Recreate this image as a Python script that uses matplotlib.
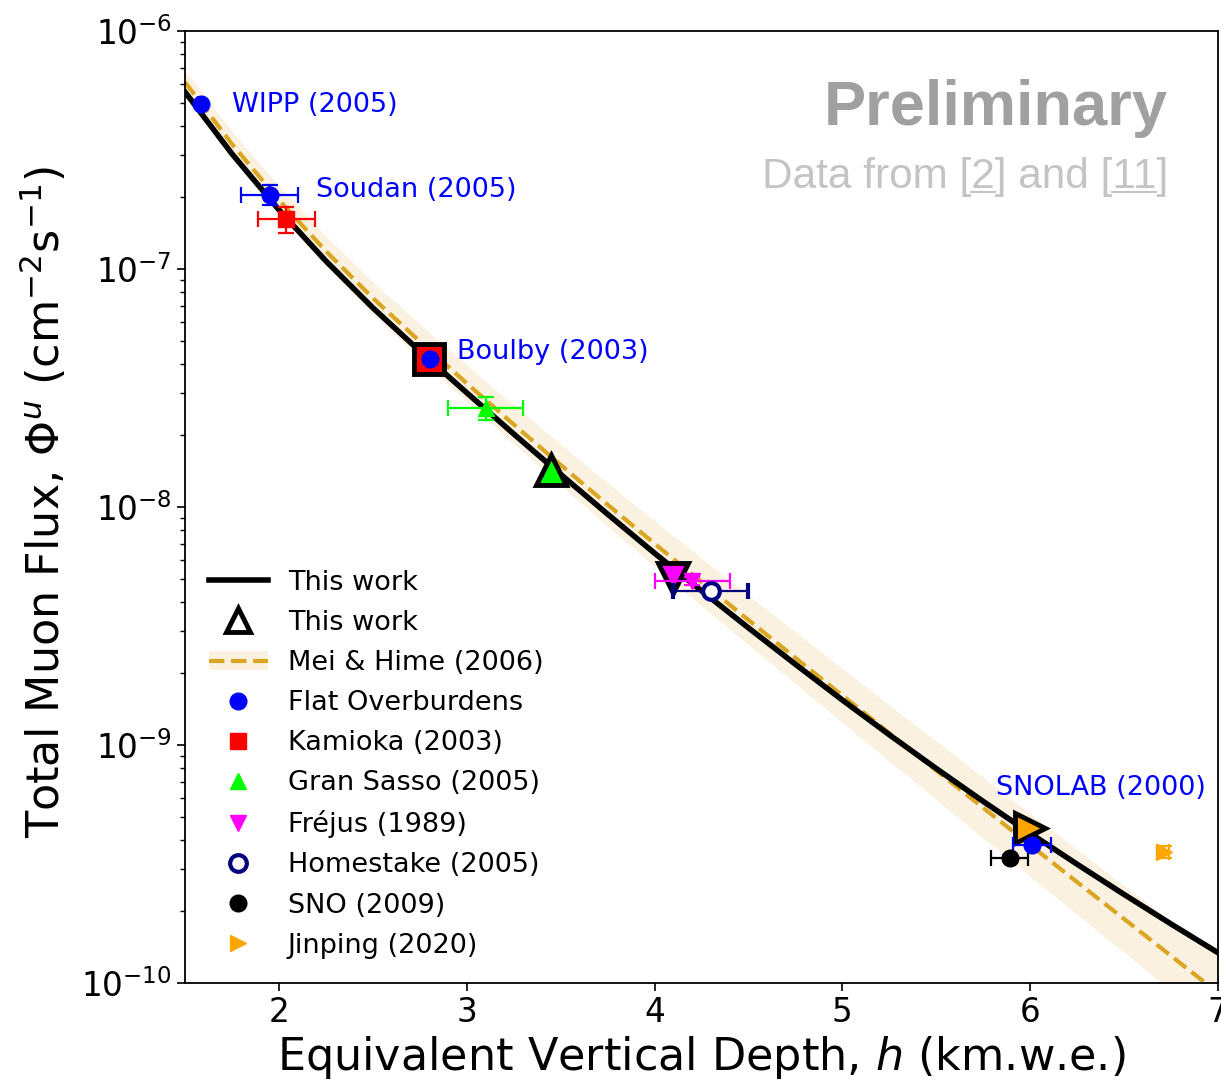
import numpy as np
import matplotlib.pyplot as plt
from matplotlib.lines import Line2D
from matplotlib.patches import Patch

plt.rcParams['font.family'] = 'DejaVu Sans'
plt.rcParams['mathtext.fontset'] = 'dejavusans'

# depth grid for the model curves (km.w.e.)
curve_depth = [1.5, 1.75, 2.0, 2.25, 2.5, 2.75, 3.0, 3.25, 3.5, 3.75, 4.0, 4.25,
               4.5, 4.75, 5.0, 5.25, 5.5, 5.75, 6.0, 6.25, 6.5, 6.75, 7.0]
this_work_flux = [5.546e-7, 3.048e-7, 1.774e-7, 1.081e-7, 6.871e-8, 4.519e-8, 3.020e-8, 2.028e-8,
                  1.371e-8, 9.333e-9, 6.397e-9, 4.446e-9, 3.105e-9, 2.183e-9, 1.545e-9, 1.104e-9,
                  7.962e-10, 5.794e-10, 4.256e-10, 3.155e-10, 2.355e-10, 1.770e-10, 1.340e-10]
mei_hime_flux = [6.095e-7, 3.350e-7, 1.950e-7, 1.189e-7, 7.551e-8, 4.966e-8, 3.311e-8, 2.223e-8,
                 1.503e-8, 1.023e-8, 7.015e-9, 4.842e-9, 3.350e-9, 2.323e-9, 1.614e-9, 1.122e-9,
                 7.816e-10, 5.445e-10, 3.802e-10, 2.655e-10, 1.858e-10, 1.300e-10, 9.099e-11]
mei_hime_hi = [6.839e-7, 3.799e-7, 2.235e-7, 1.377e-7, 8.835e-8, 5.870e-8, 3.957e-8, 2.683e-8,
               1.834e-8, 1.261e-8, 8.741e-9, 6.096e-9, 4.261e-9, 2.987e-9, 2.097e-9, 1.473e-9,
               1.037e-9, 7.302e-10, 5.152e-10, 3.635e-10, 2.570e-10, 1.817e-10, 1.286e-10]
mei_hime_lo = [5.431e-7, 2.955e-7, 1.702e-7, 1.027e-7, 6.456e-8, 4.201e-8, 2.771e-8, 1.841e-8,
               1.232e-8, 8.297e-9, 5.633e-9, 3.845e-9, 2.633e-9, 1.807e-9, 1.243e-9, 8.550e-10,
               5.893e-10, 4.062e-10, 2.806e-10, 1.938e-10, 1.343e-10, 9.295e-11, 6.442e-11]

# "this work" predictions at selected labs
tw_depth = [2.80, 3.45, 4.10, 6.00]
tw_flux = [4.17e-8, 1.43e-8, 5.03e-9, 4.47e-10]
tw_marker = ['s', '^', 'v', '>']
tw_color = ['red', 'lime', 'magenta', 'orange']

# measurements
flat_names = ['WIPP (2005)', 'Soudan (2005)', 'Boulby (2003)', 'SNOLAB (2000)']
flat_depth = [1.585, 1.95, 2.805, 6.01]
flat_flux = [4.93e-7, 2.05e-7, 4.20e-8, 3.80e-10]
flat_xerr = [0.015, 0.15, 0.015, 0.1]
flat_yerr = [0.1e-7, 0.2e-7, 0.1e-8, 0.1e-10]

kam_depth, kam_flux, kam_xerr, kam_yerr = [2.04], [1.62e-7], [0.15], [0.21e-7]
gs_depth, gs_flux, gs_xerr, gs_yerr = [3.10], [2.61e-8], [0.2], [0.3e-8]
fr_depth, fr_flux, fr_xerr, fr_yerr = [4.20], [4.90e-9], [0.2], [0.2e-9]
hs_depth, hs_flux, hs_xerr, hs_yerr = [4.30], [4.45e-9], [0.2], [0.1e-9]
sno_depth, sno_flux, sno_xerr, sno_yerr = [5.89], [3.35e-10], [0.1], [0.1e-10]
jp_depth, jp_flux, jp_xerr, jp_yerr = [6.71], [3.55e-10], [0.03], [0.2e-10]

fig = plt.figure(figsize=(12.21, 10.81), dpi=100)
ax = fig.add_axes([185 / 1221, 98 / 1081, 1033 / 1221, 952 / 1081])

ax.fill_between(curve_depth, mei_hime_lo, mei_hime_hi, color='wheat', alpha=0.4, lw=0, zorder=1)
ax.plot(curve_depth, mei_hime_flux, ls='--', color='#DAA520', lw=3, zorder=2)
ax.plot(curve_depth, this_work_flux, color='k', lw=4, zorder=3)

for d, f, m, c in zip(tw_depth, tw_flux, tw_marker, tw_color):
    ax.plot(d, f, marker=m, ms=22, mfc=c, mec='k', mew=3.5, ls='none', zorder=4)

eb = dict(ls='none', elinewidth=1.6, capsize=6, capthick=1.6, zorder=5)
ax.errorbar(flat_depth, flat_flux, xerr=flat_xerr, yerr=flat_yerr, fmt='o', ms=12, color='blue', **eb)
ax.errorbar(kam_depth, kam_flux, xerr=kam_xerr, yerr=kam_yerr, fmt='s', ms=12, color='red', **eb)
ax.errorbar(gs_depth, gs_flux, xerr=gs_xerr, yerr=gs_yerr, fmt='^', ms=12, color='lime', **eb)
ax.errorbar(fr_depth, fr_flux, xerr=fr_xerr, yerr=fr_yerr, fmt='v', ms=12, color='magenta', **eb)
ax.errorbar(hs_depth, hs_flux, xerr=hs_xerr, yerr=hs_yerr, fmt='o', ms=12, color='navy',
            mfc='white', mew=3, **eb)
ax.errorbar(sno_depth, sno_flux, xerr=sno_xerr, yerr=sno_yerr, fmt='o', ms=12, color='k', **eb)
ax.errorbar(jp_depth, jp_flux, xerr=jp_xerr, yerr=jp_yerr, fmt='>', ms=12, color='orange', **eb)

# lab names next to the flat-overburden points
label_pos = [(1.75, 4.89e-7), (2.20, 2.15e-7), (2.95, 4.48e-8), (5.82, 6.59e-10)]
for name, (x, y) in zip(flat_names, label_pos):
    ax.text(x, y, name, color='blue', fontsize=19.5, va='center', ha='left')

ax.set_yscale('log')
ax.set_xlim(1.5, 7)
ax.set_ylim(1e-10, 1e-6)
ax.set_xticks([2, 3, 4, 5, 6, 7])
ax.tick_params(which='major', labelsize=23.5, length=6, width=1.2)
ax.tick_params(which='minor', length=3.5, width=1)
for s in ax.spines.values():
    s.set_linewidth(1.3)

ax.set_xlabel(r'Equivalent Vertical Depth, $h$ (km.w.e.)', fontsize=32)
ax.set_ylabel(r'Total Muon Flux, $\Phi^u$ (cm$^{-2}$s$^{-1}$)', fontsize=32)
ax.xaxis.set_label_coords(0.5, -0.054)
ax.yaxis.set_label_coords(-0.112, 0.505)

handles = [
    Line2D([], [], color='k', lw=4),
    Line2D([], [], ls='none', marker='^', ms=17, mfc='white', mec='k', mew=3.5),
    (Patch(color='wheat', alpha=0.4, lw=0), Line2D([], [], ls='--', color='#DAA520', lw=3)),
    Line2D([], [], ls='none', marker='o', ms=12, color='blue'),
    Line2D([], [], ls='none', marker='s', ms=12, color='red'),
    Line2D([], [], ls='none', marker='^', ms=12, color='lime'),
    Line2D([], [], ls='none', marker='v', ms=12, color='magenta'),
    Line2D([], [], ls='none', marker='o', ms=12, color='navy', mfc='white', mew=3),
    Line2D([], [], ls='none', marker='o', ms=12, color='k'),
    Line2D([], [], ls='none', marker='>', ms=12, color='orange'),
]
labels = ['This work', 'This work', 'Mei & Hime (2006)', 'Flat Overburdens', 'Kamioka (2003)',
          'Gran Sasso (2005)', 'Fréjus (1989)', 'Homestake (2005)', 'SNO (2009)', 'Jinping (2020)']
ax.legend(handles, labels, loc='lower left', frameon=False, fontsize=19.5,
          handlelength=2.15, handletextpad=0.75, labelspacing=0.52)

ax.text(0.9516, 0.901, 'Preliminary', transform=ax.transAxes, ha='right', va='baseline',
        fontsize=45.5, fontweight='bold', family='Liberation Sans', color='#a0a0a0')
src = ax.text(0.9516, 0.835, 'Data from [2] and [11]', transform=ax.transAxes, ha='right',
              va='baseline', fontsize=30.5, family='Liberation Sans', color='#c4c4c4')

# underline the reference numbers
fig.canvas.draw()
r = fig.canvas.get_renderer()
prop = src.get_fontproperties()
x0 = src.get_window_extent(r).x0
yb = ax.transAxes.transform((0, 0.835))[1] - 4
def wid(s):
    return r.get_text_width_height_descent(s, prop, ismath=False)[0]
for pre, ref in [('Data from [', '2'), ('Data from [2] and [', '11')]:
    xa = x0 + wid(pre)
    xb = xa + wid(ref)
    (fa, fy), (fb, _) = fig.transFigure.inverted().transform([(xa, yb), (xb, yb)])
    fig.add_artist(Line2D([fa, fb], [fy, fy], color='#c4c4c4', lw=1.5))

fig.savefig('out.png', dpi=100)
